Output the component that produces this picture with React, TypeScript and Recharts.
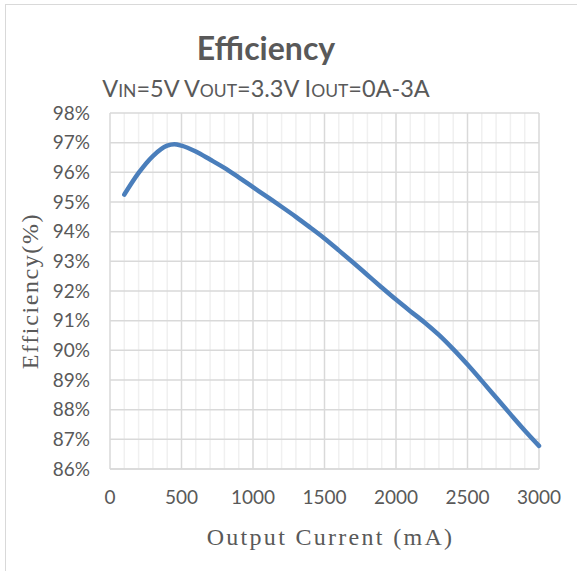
import React from "react"
import { LineChart, Line, XAxis, YAxis, CartesianGrid, Label } from "recharts"

const currentMA = [
  100, 200, 300, 400, 450, 500, 600, 700, 800, 900, 1000, 1100, 1200, 1300, 1400, 1500,
  1600, 1700, 1800, 1900, 2000, 2100, 2200, 2300, 2400, 2500, 2600, 2700, 2800, 2900, 3000,
]
const efficiencyPct = [
  95.25, 95.98, 96.55, 96.9, 96.95, 96.9, 96.7, 96.43, 96.15, 95.83, 95.5, 95.17, 94.84,
  94.5, 94.14, 93.77, 93.37, 92.96, 92.54, 92.12, 91.71, 91.32, 90.94, 90.52, 90.04, 89.52,
  88.97, 88.41, 87.85, 87.3, 86.78,
]

// every 100 mA gets a grid line, labels only on the 500s
const xTicks = [
  0, 100, 200, 300, 400, 500, 600, 700, 800, 900, 1000, 1100, 1200, 1300, 1400, 1500, 1600,
  1700, 1800, 1900, 2000, 2100, 2200, 2300, 2400, 2500, 2600, 2700, 2800, 2900, 3000,
]
const xLabelTicks = [0, 500, 1000, 1500, 2000, 2500, 3000]
const yTicks = [86, 87, 88, 89, 90, 91, 92, 93, 94, 95, 96, 97, 98]

const data = currentMA.map((ma, i) => ({ ma, eff: efficiencyPct[i] }))

const tickFont = { fontFamily: "Lato", fontSize: 19, fill: "#595959" }
const labelFont = { fontFamily: "Liberation Serif", fontSize: 24, fill: "#595959" }

export default function App() {
  return (
    <div style={{ position: "fixed", left: 0, top: 0, width: 577, height: 571, background: "#fff", overflow: "hidden" }}>
      <div style={{ position: "absolute", left: 5, top: 4, width: 700, height: 700, border: "1px solid #d9d9d9" }} />
      <LineChart width={577} height={571} data={data} margin={{ top: 113, right: 38, bottom: 0, left: 0 }}>
        <CartesianGrid
          horizontal={false}
          vertical={(p: any) => (
            <line
              key={p.key}
              x1={p.x1}
              y1={p.y1}
              x2={p.x2}
              y2={p.y2}
              stroke={p.index % 5 === 0 ? "#d9d9d9" : "#f0f0f0"}
              strokeWidth={1.5}
            />
          )}
        />
        <CartesianGrid vertical={false} stroke="#d9d9d9" strokeWidth={1.5} />
        <XAxis
          dataKey="ma"
          type="number"
          domain={[0, 3000]}
          ticks={xTicks}
          interval={0}
          tickFormatter={(v: number) => (xLabelTicks.includes(v) ? String(v) : "")}
          tick={tickFont}
          tickLine={false}
          tickSize={0}
          tickMargin={22}
          axisLine={{ stroke: "#d9d9d9", strokeWidth: 1.5 }}
          height={102}
        >
          <Label
            value="Output Current (mA)"
            position="insideBottom"
            offset={26}
            dx={6}
            style={{ ...labelFont, letterSpacing: 2.3 }}
          />
        </XAxis>
        <YAxis
          type="number"
          domain={[86, 98]}
          ticks={yTicks}
          interval={0}
          tickFormatter={(v: number) => `${v}%`}
          tick={tickFont}
          tickLine={false}
          tickSize={0}
          tickMargin={20}
          axisLine={false}
          width={110}
        >
          <Label
            value="Efficiency(%)"
            angle={-90}
            position="insideLeft"
            offset={29}
            style={{ ...labelFont, letterSpacing: 1.6, textAnchor: "middle" }}
          />
        </YAxis>
        <Line
          type="monotone"
          dataKey="eff"
          stroke="#4a7ebb"
          strokeWidth={4.5}
          strokeLinecap="round"
          dot={false}
          activeDot={false}
          isAnimationActive={false}
        />
      </LineChart>
      <svg width={577} height={110} style={{ position: "absolute", left: 0, top: 0 }}>
        <text x={266} y={60} textAnchor="middle" fontFamily="Lato" fontWeight="bold" fontSize={32} fill="#595959">
          Efficiency
        </text>
        <text x={266} y={97} textAnchor="middle" fontFamily="Lato" fontSize={23.5} fill="#595959">
          V<tspan fontSize={17.5}>IN</tspan>=5V V<tspan fontSize={17.5}>OUT</tspan>=3.3V I
          <tspan fontSize={17.5}>OUT</tspan>=0A-3A
        </text>
      </svg>
    </div>
  )
}
